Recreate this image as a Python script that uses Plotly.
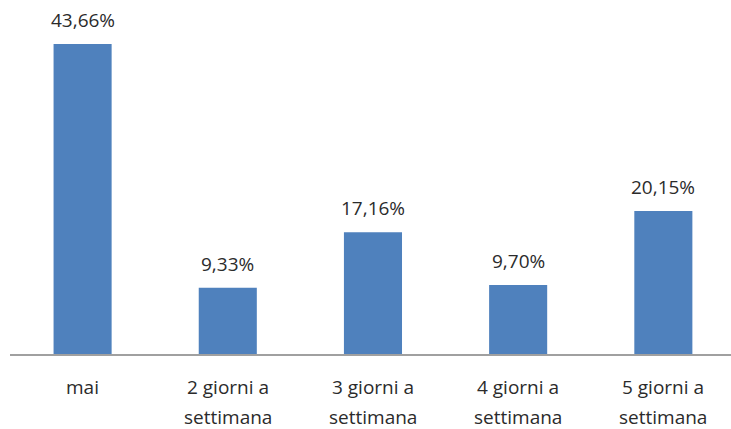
import plotly.graph_objects as go

# Frequency categories (two text lines each) and their shares in percent
categories = ["mai", "2 giorni a settimana", "3 giorni a settimana",
              "4 giorni a settimana", "5 giorni a settimana"]
label_lines = [["mai"], ["2 giorni a", "settimana"], ["3 giorni a", "settimana"],
               ["4 giorni a", "settimana"], ["5 giorni a", "settimana"]]
values = [43.66, 9.33, 17.16, 9.70, 20.15]

BAR_COLOR = "#4F81BD"
TEXT_COLOR = "#2b2b2b"
FONT = "Open Sans"

fig = go.Figure()
fig.add_trace(go.Bar(
    x=list(range(len(categories))),
    y=values,
    width=0.4,
    marker=dict(color=BAR_COLOR, line=dict(width=0)),
    hovertext=categories,
    showlegend=False,
))

annotations = []
# value labels above each bar, Italian decimal comma
for i, v in enumerate(values):
    annotations.append(dict(
        x=i, y=v, xref="x", yref="y",
        text=f"{v:.2f}".replace(".", ",") + "%",
        showarrow=False, yanchor="bottom", yshift=9,
        font=dict(family=FONT, size=19, color=TEXT_COLOR),
    ))

# category labels under the axis, with wide line spacing
for i, lines in enumerate(label_lines):
    for j, line in enumerate(lines):
        annotations.append(dict(
            x=i, y=0, xref="x", yref="y",
            text=line, showarrow=False, yanchor="middle",
            yshift=-33 - 30 * j,
            font=dict(family=FONT, size=19, color=TEXT_COLOR),
        ))

fig.update_layout(
    width=731, height=429,
    margin=dict(l=10, r=0, t=0, b=75),
    paper_bgcolor="white", plot_bgcolor="white",
    annotations=annotations,
    xaxis=dict(range=[-0.5, 4.466], showticklabels=False, ticks="",
               showgrid=False, zeroline=False,
               showline=True, linecolor="#a0a0a0", linewidth=1.5),
    yaxis=dict(range=[0, 49.85], visible=False, showgrid=False, zeroline=False),
)

fig.write_html("out.html")
